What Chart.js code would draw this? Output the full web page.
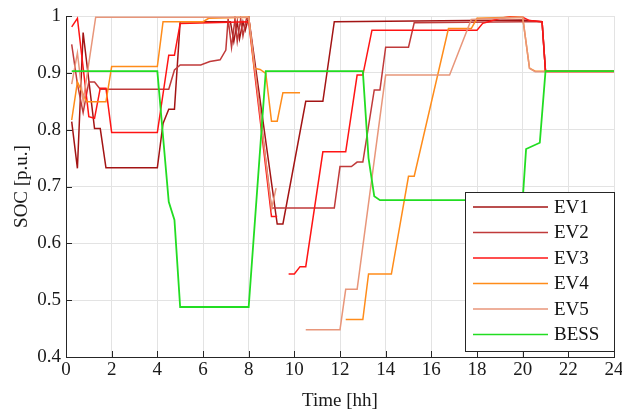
<!DOCTYPE html>
<html>
<head>
<meta charset="utf-8">
<script src="https://cdn.jsdelivr.net/npm/chart.js@4"></script>
<style>
  html, body { margin: 0; padding: 0; background: #fff; }
  #wrap { width: 622px; height: 413px; }
</style>
</head>
<body>
<div id="wrap"><canvas id="soc" width="622" height="413"></canvas></div>
<script>
// values (time in hours, SOC in p.u.)
const ev1Time = [0.25, 0.5, 0.75, 1.25, 1.5, 1.75, 4.0, 4.25, 4.5, 4.75, 5.0, 7.2, 7.35, 7.5, 7.6, 7.75, 7.85, 8.0, 9.25, 9.5, 10.5, 11.25, 11.75, 20.0, 20.85, 21.0, 24];
const ev1Soc  = [0.814, 0.732, 0.971, 0.802, 0.802, 0.733, 0.733, 0.811, 0.836, 0.836, 0.990, 0.990, 0.955, 0.990, 0.960, 0.990, 0.975, 0.998, 0.634, 0.634, 0.850, 0.850, 0.990, 0.993, 0.990, 0.903, 0.903];

const ev2Time = [0.25, 0.5, 0.75, 1.0, 1.25, 1.5, 4.5, 4.75, 5.0, 5.9, 6.3, 6.75, 7.0, 7.1, 7.25, 7.4, 7.5, 7.65, 7.75, 7.9, 8.0, 9.0, 11.75, 12.0, 12.5, 12.75, 13.0, 13.5, 13.75, 14.0, 15.0, 15.25, 20.0, 20.4, 20.85, 21.0, 24];
const ev2Soc  = [0.95, 0.88, 0.83, 0.884, 0.884, 0.871, 0.871, 0.905, 0.914, 0.914, 0.920, 0.923, 0.940, 0.995, 0.945, 0.995, 0.955, 0.995, 0.965, 0.995, 0.998, 0.662, 0.662, 0.735, 0.735, 0.743, 0.743, 0.870, 0.870, 0.945, 0.945, 0.988, 0.990, 0.990, 0.990, 0.903, 0.903];

const ev3Time = [0.25, 0.5, 1.0, 1.25, 1.5, 1.75, 2.0, 4.0, 4.5, 4.75, 5.0, 8.0, 9.0, 9.25, 9.5, 9.75, 10.0, 10.25, 10.5, 11.25, 12.25, 12.75, 13.0, 13.4, 18.0, 18.25, 18.5, 19.0, 19.5, 20.0, 20.3, 20.85, 21.0, 24];
const ev3Soc  = [0.981, 0.996, 0.823, 0.820, 0.873, 0.873, 0.795, 0.795, 0.931, 0.931, 0.987, 0.990, 0.647, 0.647, null, 0.546, 0.546, 0.559, 0.559, 0.761, 0.761, 0.896, 0.896, 0.975, 0.975, 0.987, 0.990, 0.996, 0.999, 0.998, 0.992, 0.990, 0.902, 0.902];

const ev4Time = [0.25, 0.5, 0.9, 1.75, 2.0, 4.0, 4.25, 6.0, 6.25, 8.0, 8.25, 8.5, 8.75, 9.0, 9.25, 9.5, 10.25, 11.0, 12.25, 13.0, 13.25, 14.25, 15.0, 15.25, 16.75, 17.75, 18.0, 20.0, 20.3, 20.55, 24];
const ev4Soc  = [0.817, 0.884, 0.849, 0.849, 0.911, 0.911, 0.990, 0.990, 0.996, 0.998, 0.908, 0.906, 0.899, 0.815, 0.815, 0.865, 0.865, null, 0.466, 0.466, 0.546, 0.546, 0.718, 0.718, 0.978, 0.978, 0.996, 0.998, 0.908, 0.903, 0.903];

const ev5Time = [0.25, 0.5, 0.75, 1.3, 8.0, 9.0, 9.2, 9.8, 10.5, 12.0, 12.25, 12.75, 13.85, 14.0, 16.8, 17.75, 20.0, 20.3, 20.55, 24];
const ev5Soc  = [0.88, 0.935, 0.85, 0.998, 0.998, 0.660, 0.697, null, 0.448, 0.448, 0.519, 0.519, 0.852, 0.896, 0.896, 0.994, 0.998, 0.908, 0.902, 0.902];

const bessTime = [0.25, 4.0, 4.5, 4.75, 5.0, 8.0, 8.75, 13.0, 13.25, 13.5, 13.75, 20.0, 20.15, 20.75, 21.0, 24];
const bessSoc  = [0.903, 0.903, 0.673, 0.641, 0.488, 0.488, 0.903, 0.903, 0.750, 0.683, 0.676, 0.676, 0.766, 0.777, 0.903, 0.903];

const seriesNames = ["EV1", "EV2", "EV3", "EV4", "EV5", "BESS"];
const seriesColors = ["#a31414", "#c03a3a", "#ff1414", "#ff8c1a", "#e8967a", "#22dd22"];
const xTicks = [0, 2, 4, 6, 8, 10, 12, 14, 16, 18, 20, 22, 24];
const yTicks = [0.4, 0.5, 0.6, 0.7, 0.8, 0.9, 1];

const FONT = "'Liberation Serif', 'Times New Roman', serif";

function toPoints(times, vals) {
  return times.map((t, i) => ({ x: t, y: vals[i] }));
}

const allSeries = [
  toPoints(ev1Time, ev1Soc),
  toPoints(ev2Time, ev2Soc),
  toPoints(ev3Time, ev3Soc),
  toPoints(ev4Time, ev4Soc),
  toPoints(ev5Time, ev5Soc),
  toPoints(bessTime, bessSoc),
];

// MATLAB style inward tick marks
const innerTicks = {
  id: "innerTicks",
  afterDatasetsDraw(chart) {
    const { ctx, chartArea, scales } = chart;
    ctx.save();
    ctx.strokeStyle = "#262626";
    ctx.lineWidth = 1;
    ctx.beginPath();
    xTicks.forEach((v) => {
      const px = Math.round(scales.x.getPixelForValue(v)) + 0.5;
      ctx.moveTo(px, chartArea.bottom);
      ctx.lineTo(px, chartArea.bottom - 6);
    });
    yTicks.forEach((v) => {
      const py = Math.round(scales.y.getPixelForValue(v)) + 0.5;
      ctx.moveTo(chartArea.left, py);
      ctx.lineTo(chartArea.left + 6, py);
    });
    ctx.stroke();
    ctx.restore();
  },
};

// legend box inside the plot, bottom right
const boxLegend = {
  id: "boxLegend",
  afterDraw(chart) {
    const { ctx, chartArea } = chart;
    const w = 149, rowH = 25.5;
    const h = rowH * seriesNames.length + 6;
    const x0 = chartArea.right - w;
    const y0 = chartArea.bottom - 6 - h;
    ctx.save();
    ctx.fillStyle = "#fff";
    ctx.fillRect(x0, y0, w, h);
    ctx.strokeStyle = "#262626";
    ctx.lineWidth = 1;
    ctx.strokeRect(Math.round(x0) + 0.5, Math.round(y0) + 0.5, w, h);
    ctx.font = "19px " + FONT;
    ctx.textBaseline = "middle";
    chart.data.datasets.forEach((ds, i) => {
      const y = y0 + 15 + i * rowH;
      ctx.strokeStyle = ds.borderColor;
      ctx.lineWidth = 1.6;
      ctx.beginPath();
      ctx.moveTo(x0 + 8, y);
      ctx.lineTo(x0 + 83, y);
      ctx.stroke();
      ctx.fillStyle = "#111";
      ctx.fillText(ds.label, x0 + 89, y + 1);
    });
    ctx.restore();
  },
};

new Chart(document.getElementById("soc"), {
  type: "line",
  data: {
    datasets: allSeries.map((pts, i) => ({
      label: seriesNames[i],
      data: pts,
      borderColor: seriesColors[i],
      backgroundColor: seriesColors[i],
      borderWidth: i === 5 ? 1.8 : 1.5,
      pointRadius: 0,
      tension: 0,
      spanGaps: false,
      order: seriesNames.length - i,
    })),
  },
  options: {
    responsive: false,
    animation: false,
    layout: { padding: 0 },
    plugins: {
      legend: { display: false },
      tooltip: { enabled: false },
    },
    scales: {
      x: {
        type: "linear",
        min: 0,
        max: 24,
        afterBuildTicks: (s) => { s.ticks = xTicks.map((v) => ({ value: v })); },
        afterFit: (s) => { s.height = 56; s.paddingLeft = 0; s.paddingRight = 8; },
        ticks: {
          font: { family: FONT, size: 19 },
          color: "#1a1a1a",
          padding: 2,
          maxRotation: 0,
          autoSkip: false,
        },
        grid: { color: "#e3e3e3", drawTicks: false },
        border: { color: "#262626", width: 1 },
        title: {
          display: true,
          text: "Time [hh]",
          font: { family: FONT, size: 19 },
          color: "#1a1a1a",
          padding: { top: 0, bottom: 1 },
        },
      },
      y: {
        min: 0.4,
        max: 1,
        afterBuildTicks: (s) => { s.ticks = yTicks.map((v) => ({ value: v })); },
        afterFit: (s) => { s.width = 66; s.paddingTop = 16; s.paddingBottom = 0; },
        ticks: {
          font: { family: FONT, size: 19 },
          color: "#1a1a1a",
          padding: 5,
          callback: (v) => String(Number(v.toFixed(1))),
        },
        grid: { color: "#e3e3e3", drawTicks: false },
        border: { color: "#262626", width: 1 },
        title: {
          display: true,
          text: "SOC [p.u.]",
          font: { family: FONT, size: 19 },
          color: "#1a1a1a",
          padding: { top: 11, bottom: 0 },
        },
      },
    },
  },
  plugins: [innerTicks, boxLegend],
});
</script>
</body>
</html>
